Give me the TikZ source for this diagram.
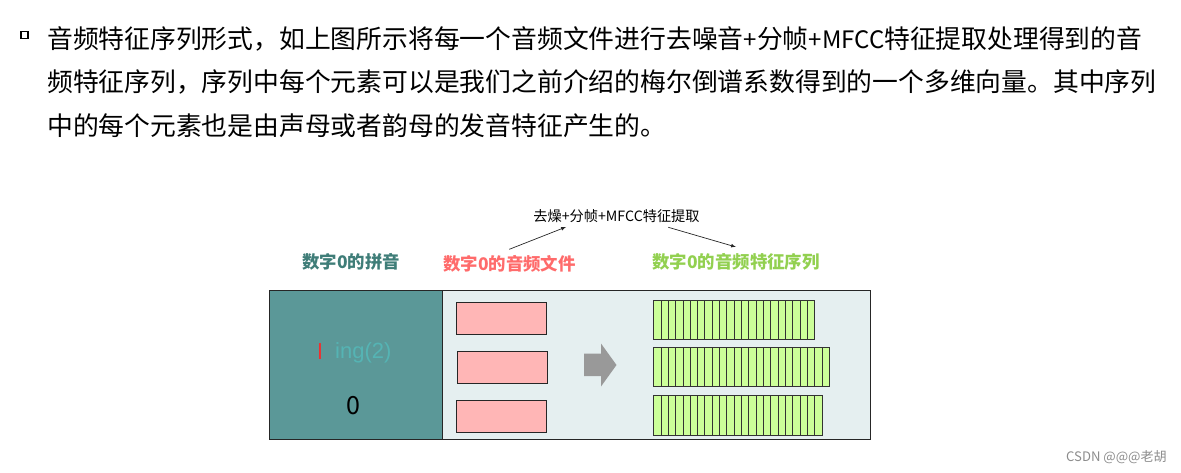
\documentclass[tikz,border=0pt]{standalone}
\usepackage{fontspec}
\setmainfont{Noto Sans CJK SC}
\newfontfamily\latinfont{Liberation Sans}
\newcommand{\narrowlat}[1]{{\fontsize{24}{43.5}\selectfont #1}}
\tikzset{
  body/.style={anchor=west,inner sep=0pt,font=\fontsize{25.8}{43.5}\selectfont,align=left},
  heading/.style={inner sep=0pt,font=\fontsize{17.4}{20}\selectfont\bfseries},
  pinkbox/.style={draw=black!85,fill=pink0,line width=0.8pt,minimum width=90pt,minimum height=31.5pt,inner sep=0pt},
  cellbox/.style={draw=black!80,fill=green0,line width=0.55pt},
  note/.style={-latex,black!85,line width=0.7pt}
}
\definecolor{teal0}{HTML}{5B9898}
\definecolor{teal1}{HTML}{3F7D78}
\definecolor{teal2}{HTML}{55B4B4}
\definecolor{pale0}{HTML}{E5EFF0}
\definecolor{pink0}{HTML}{FFB6B6}
\definecolor{red0}{HTML}{FF6B6B}
\definecolor{red1}{HTML}{F03030}
\definecolor{green0}{HTML}{CCFF99}
\definecolor{green1}{HTML}{92D050}
\begin{document}
\begin{tikzpicture}[x=1pt,y=-1pt]
    \useasboundingbox (0,0) rectangle (1181,473);

    %Text
    \node[draw=black,line width=1.7pt,minimum size=7pt,inner sep=0pt] at (24.5,35) (bullet) {};
    \node[body] at (47,82) (para) {音频特征序列形式，如上图所示将每一个音频文件进行去噪音\narrowlat{+}分帧\narrowlat{+MFCC}特征提取处理得到的音\\
        频特征序列，序列中每个元素可以是我们之前介绍的梅尔倒谱系数得到的一个多维向量。其中序列\\
        中的每个元素也是由声母或者韵母的发音特征产生的。};

    %Panels
    \node[draw=black!85,fill=pale0,line width=0.8pt,minimum width=600.5pt,minimum height=148.5pt,inner sep=0pt] at (569.75,364.75) (panel) {};
    \node[draw=black!85,fill=teal0,line width=0.8pt,minimum width=172.5pt,minimum height=148.5pt,inner sep=0pt] at (355.75,364.75) (pinyin) {};
    \node[pinkbox] at (501.5,318.5) (wave1) {};
    \node[pinkbox] at (502.5,367.5) (wave2) {};
    \node[pinkbox] at (501.5,416.25) (wave3) {};

    %Cells
    \foreach \top/\bot/\num in {300.5/339.5/22,347/386/24,395.5/435/23}
        \foreach \i in {1,...,\num}
            \draw[cellbox] ({653.5+7.32*(\i-1)},\top) rectangle ({653.5+7.32*\i},\bot);

    %Block arrow
    \fill[black!40] (584,353.5) -- (601,353.5) -- (601,343.5) -- (616.5,365) -- (601,386.5) -- (601,376) -- (584,376) -- cycle;

    %Labels
    \node[heading,text=teal1] at (351,262) (lab1) {数字0的拼音};
    \node[heading,text=red0] at (509.5,264) (lab2) {数字0的音频文件};
    \node[heading,text=green1] at (736,262) (lab3) {数字0的音频特征序列};
    \node[inner sep=0pt,font=\fontsize{14.2}{16}\selectfont] at (616.5,216) (step1) {去燥+分帧+MFCC特征提取};
    \node[inner sep=0pt,text=teal2,font=\latinfont\fontsize{22}{25}\selectfont,anchor=west] at (335,353) (ing) {ing(2)};
    \node[inner sep=0pt,text=red1,font=\latinfont\fontsize{22}{25}\selectfont] at (320,351.5) (ell) {l};
    \node[inner sep=0pt,font=\fontsize{25}{28}\selectfont] at (353.5,406) (zero) {0};
    \node[inner sep=0pt,text=black!45,font=\fontsize{13.1}{15}\selectfont,anchor=east] at (1167,457) (mark) {CSDN @@@老胡};

    %Lines
    \coordinate (a1) at (509.3,249.3);
    \coordinate (a2) at (566,227);
    \coordinate (b1) at (668.3,227.3);
    \coordinate (b2) at (736,247);
    \draw[note] (a1) -- (a2);
    \draw[note] (b1) -- (b2);
\end{tikzpicture}
\end{document}
